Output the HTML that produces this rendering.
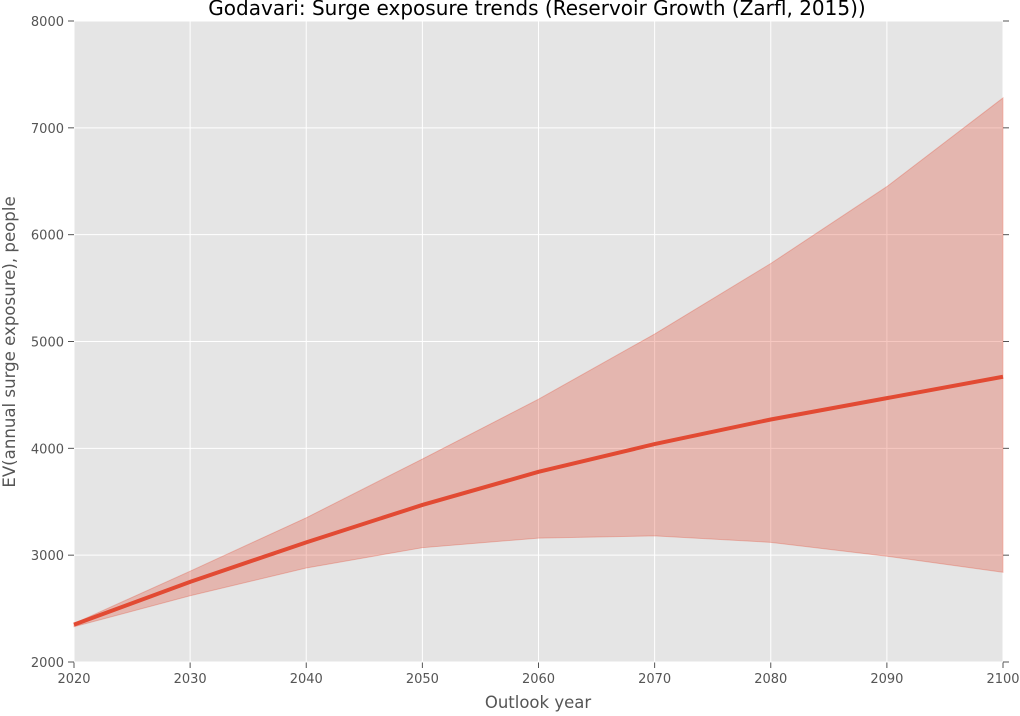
<!DOCTYPE html>
<html><head><meta charset="utf-8"><style>
body{margin:0;background:#fff;font-family:"DejaVu Sans","Liberation Sans",sans-serif}
</style></head><body>
<svg id="chart" width="1020" height="712" xmlns="http://www.w3.org/2000/svg" font-family="DejaVu Sans, Liberation Sans, sans-serif"></svg>
<script>
const years=[2020,2030,2040,2050,2060,2070,2080,2090,2100];
const meanVals=[2350,2750,3120,3470,3780,4040,4270,4470,4670];
const upperVals=[2360,2850,3350,3900,4460,5070,5730,6450,7280];
const lowerVals=[2330,2620,2880,3070,3160,3180,3120,2990,2840];
const xTicks=[2020,2030,2040,2050,2060,2070,2080,2090,2100];
const yTicks=[2000,3000,4000,5000,6000,7000,8000];
const L=74,R=1003,T=21,B=662;
const xs=v=>L+(v-2020)/80*(R-L);
const ys=v=>B-(v-2000)/6000*(B-T);
const svg=document.getElementById('chart');
const NS='http://www.w3.org/2000/svg';
function mk(tag,attrs,parent){const e=document.createElementNS(NS,tag);for(const k in attrs)e.setAttribute(k,attrs[k]);(parent||svg).appendChild(e);return e;}
const bg=mk('rect',{x:L,y:T,width:R-L,height:B-T,fill:'#e5e5e5'});


xTicks.forEach(t=>{
  const g=mk('line',{x1:xs(t),x2:xs(t),y1:T,y2:B,stroke:'#fff','stroke-width':1});
  
  
  mk('line',{x1:xs(t),x2:xs(t),y1:B,y2:B+6,stroke:'#555'});
  const lb=mk('text',{x:xs(t),y:B+21,'text-anchor':'middle','font-size':13,fill:'#555'});
  lb.textContent=t;
  
  
});
yTicks.forEach(t=>{
  const g=mk('line',{x1:L,x2:R,y1:ys(t),y2:ys(t),stroke:'#fff','stroke-width':1});
  
  
  mk('line',{x1:L-6,x2:L,y1:ys(t),y2:ys(t),stroke:'#555'});
  mk('line',{x1:R,x2:R+6,y1:ys(t),y2:ys(t),stroke:'#555'});
  const lb=mk('text',{x:L-10,y:ys(t)+5,'text-anchor':'end','font-size':13,fill:'#555'});
  lb.textContent=t;
  
  
});
let d='M'+years.map((y,i)=>xs(y)+','+ys(upperVals[i])).join(' L');
for(let i=years.length-1;i>=0;i--)d+=' L'+xs(years[i])+','+ys(lowerVals[i]);
d+=' Z';
const band=mk('path',{d:d,fill:'#e24a33','fill-opacity':0.3,stroke:'#e24a33','stroke-opacity':0.3});


const line=mk('polyline',{points:years.map((y,i)=>xs(y)+','+ys(meanVals[i])).join(' '),fill:'none',stroke:'#e24a33','stroke-width':4});


const title=mk('text',{x:537,y:15,'text-anchor':'middle','font-size':20,fill:'#000'});
title.textContent='Godavari: Surge exposure trends (Reservoir Growth (Zarfl, 2015))';


const xl=mk('text',{x:538,y:708,'text-anchor':'middle','font-size':16.5,fill:'#555'});
xl.textContent='Outlook year';


const yl=mk('text',{x:0,y:0,'text-anchor':'middle','font-size':16.6,fill:'#555',transform:'translate(15,342) rotate(-90)'});
yl.textContent='EV(annual surge exposure), people';


</script>
</body></html>
